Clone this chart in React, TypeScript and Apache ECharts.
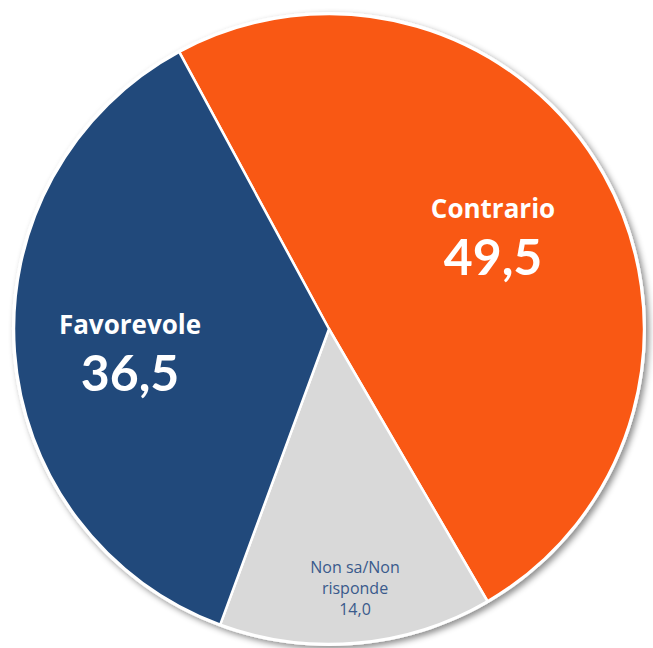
import React, { useEffect, useRef } from "react";
import * as echarts from "echarts";

const categories = ["Contrario", "Non sa/Non\nrisponde", "Favorevole"];
const values = [49.5, 14.0, 36.5];
const colors = ["#F95814", "#D9D9D9", "#21497B"];

export default function App() {
  const ref = useRef<HTMLDivElement>(null);
  useEffect(() => {
    if (!ref.current) return;
    const chart = echarts.init(ref.current, null, { renderer: "svg" });
    const fmt = (v: number) => v.toFixed(1).replace(".", ",");
    const labelPos: Record<number, [number, number]> = {
      0: [493, 236],
      1: [355, 588],
      2: [130, 352],
    };
    chart.setOption({
      animation: false,
      backgroundColor: "#ffffff",
      series: [
        {
          type: "pie",
          silent: true,
          center: [329, 329],
          radius: 317,
          label: { show: false },
          itemStyle: {
            color: "#ffffff",
            shadowBlur: 6,
            shadowOffsetX: 3,
            shadowOffsetY: 3,
            shadowColor: "rgba(0,0,0,0.45)",
          },
          data: [{ value: 1, name: "bg" }],
        },
        {
          type: "pie",
          center: [329, 329],
          radius: 315,
          startAngle: 118.4,
          clockwise: true,
          itemStyle: { borderColor: "#ffffff", borderWidth: 2.5 },
          data: categories.map((c, i) => ({
            name: c,
            value: values[i],
            itemStyle: { color: colors[i] },
            label:
              i === 1
                ? {
                    formatter: () => `${c}\n${fmt(values[i])}`,
                    color: "#3A5A8C",
                    fontSize: 16,
                    lineHeight: 21,
                    fontFamily: "Open Sans",
                    align: "center",
                  }
                : {
                    formatter: () => `{n|${c}}\n{v|${fmt(values[i])}}`,
                    rich: {
                      n: {
                        color: "#ffffff",
                        fontSize: 26,
                        fontWeight: "bold",
                        fontFamily: "Open Sans",
                        lineHeight: 40,
                        align: "center",
                      },
                      v: {
                        color: "#ffffff",
                        fontSize: 50,
                        fontWeight: "bold",
                        fontFamily: "Lato",
                        lineHeight: 56,
                        align: "center",
                      },
                    },
                  },
          })),
          label: { show: true, position: "inside" },
          labelLine: { show: false },
          labelLayout: (params: any) => {
            const p = labelPos[params.dataIndex];
            return { x: p[0], y: p[1], align: "center", verticalAlign: "middle" };
          },
        },
      ],
    });
    return () => chart.dispose();
  }, []);
  return (
    <div
      ref={ref}
      style={{ position: "fixed", left: 0, top: 0, width: 653, height: 648 }}
    />
  );
}
